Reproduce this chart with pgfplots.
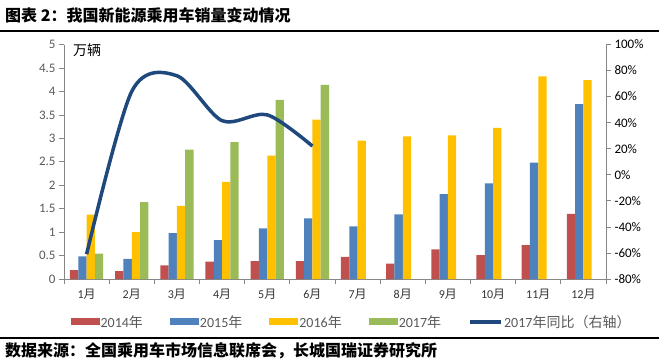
\documentclass[border=0pt]{standalone}
\usepackage{pgfplots}
\pgfplotsset{compat=1.18}
\usepackage{pgfplotstable}
\usepackage{fontspec}
\setmainfont{Carlito}
\newfontfamily\cjk{Noto Sans CJK SC}
\definecolor{c14}{RGB}{192,80,77}
\definecolor{c15}{RGB}{79,129,189}
\definecolor{c16}{RGB}{255,192,0}
\definecolor{c17}{RGB}{155,187,89}
\definecolor{cline}{RGB}{31,73,125}
\definecolor{axgray}{RGB}{134,134,134}
\definecolor{lblgray}{RGB}{89,89,89}
\pgfplotsset{
  barleg/.style={legend image code/.code={\fill[##1] (0pt,-3.5pt) rectangle (29pt,3.5pt);}},
  lineleg/.style={legend image code/.code={\draw[##1] (0pt,0pt) -- (31pt,0pt);}},
}
\pgfplotstableread{
x a b c d
0 0.19 0.48 1.37 0.54
1 0.17 0.43 1.00 1.64
2 0.29 0.98 1.56 2.76
3 0.37 0.83 2.07 2.92
4 0.38 1.08 2.63 3.82
5 0.38 1.29 3.40 4.14
6 0.47 1.12 2.95 nan
7 0.33 1.38 3.04 nan
8 0.63 1.81 3.06 nan
9 0.51 2.04 3.22 nan
10 0.72 2.48 4.32 nan
11 1.39 3.73 4.24 nan
}\sales
\pgfplotstableread{
x y
0 -61
1 64
2 76
3 41.5
4 46
5 22
}\yoy
\begin{document}
\begin{tikzpicture}
\path[use as bounding box] (0pt,0pt) rectangle (659pt,362pt);
\node[anchor=west, inner sep=0pt, font=\cjk\bfseries\fontsize{16}{18}\selectfont] at (5pt,347pt) {图表 2：我国新能源乘用车销量变动情况};
\draw[line width=1.4pt] (0pt,331pt) -- (659pt,331pt);
\draw[line width=1.4pt] (0pt,24pt) -- (659pt,24pt);
\node[anchor=west, inner sep=0pt, font=\cjk\bfseries\fontsize{16}{18}\selectfont] at (5pt,11pt) {数据来源：全国乘用车市场信息联席会，长城国瑞证券研究所};
\begin{axis}[
  at={(64pt,83pt)}, anchor=south west,
  scale only axis, width=542pt, height=234.5pt,
  xmin=-0.5, xmax=11.5, ymin=0, ymax=5,
  axis x line*=bottom, axis y line*=left,
  axis line style={draw=axgray, line width=0.7pt, -},
  ybar=0pt, bar width=8.3pt,
  xtick={0,...,11},
  xticklabels={1{\cjk 月},2{\cjk 月},3{\cjk 月},4{\cjk 月},5{\cjk 月},6{\cjk 月},7{\cjk 月},8{\cjk 月},9{\cjk 月},10{\cjk 月},11{\cjk 月},12{\cjk 月}},
  major x tick style={draw=none},
  minor xtick={-0.5,0.5,...,11.5},
  minor x tick style={draw=axgray, line width=0.7pt},
  minor tick length=5pt,
  xtick align=outside, ytick align=outside,
  ytick={0,0.5,...,5},
  major y tick style={draw=axgray, line width=0.7pt},
  major tick length=5pt,
  /pgf/number format/assume math mode=true,
  yticklabel style={font=\fontsize{13}{15}\selectfont, text=lblgray},
  xticklabel style={font=\fontsize{12}{14}\selectfont, text=black!80, yshift=-2pt},
  legend style={at={(0.0122,-0.183)}, anchor=west, draw=none, fill=none,
     inner sep=0pt, outer sep=0pt,
     font=\fontsize{14}{16}\selectfont, text=lblgray,
     nodes={inner sep=1pt},
     /tikz/every even column/.append style={column sep=26pt}},
  legend columns=5,
  clip=false,
]
\addplot[fill=c14, draw=none, barleg] table[x=x,y=a] {\sales};
\addlegendentry{2014{\cjk 年}}
\addplot[fill=c15, draw=none, barleg] table[x=x,y=b] {\sales};
\addlegendentry{2015{\cjk 年}}
\addplot[fill=c16, draw=none, barleg] table[x=x,y=c] {\sales};
\addlegendentry{2016{\cjk 年}}
\addplot[fill=c17, draw=none, barleg] table[x=x,y=d] {\sales};
\addlegendentry{2017{\cjk 年}}
\addlegendimage{lineleg, draw=cline, line width=4pt}
\addlegendentry{2017{\cjk 年同比（右轴）}}
\node[anchor=west, inner sep=0pt, font=\cjk\fontsize{14}{16}\selectfont] at (rel axis cs:0.0166,0.974) {万辆};
\end{axis}
\begin{axis}[
  at={(64pt,83pt)}, anchor=south west,
  scale only axis, width=542pt, height=234.5pt,
  xmin=-0.5, xmax=11.5, ymin=-80, ymax=100,
  axis x line=none, axis y line*=right,
  axis line style={draw=axgray, line width=0.7pt, -},
  ytick={-80,-60,...,100},
  ytick align=outside,
  major y tick style={draw=axgray, line width=0.7pt},
  major tick length=5pt,
  /pgf/number format/assume math mode=true,
  yticklabel={\pgfmathprintnumber{\tick}\%},
  yticklabel style={font=\fontsize{13}{15}\selectfont, text=black},
]
\addplot[draw=cline, line width=3.5pt, smooth, mark=none] table[x=x,y=y] {\yoy};
\end{axis}
\end{tikzpicture}
\end{document}
